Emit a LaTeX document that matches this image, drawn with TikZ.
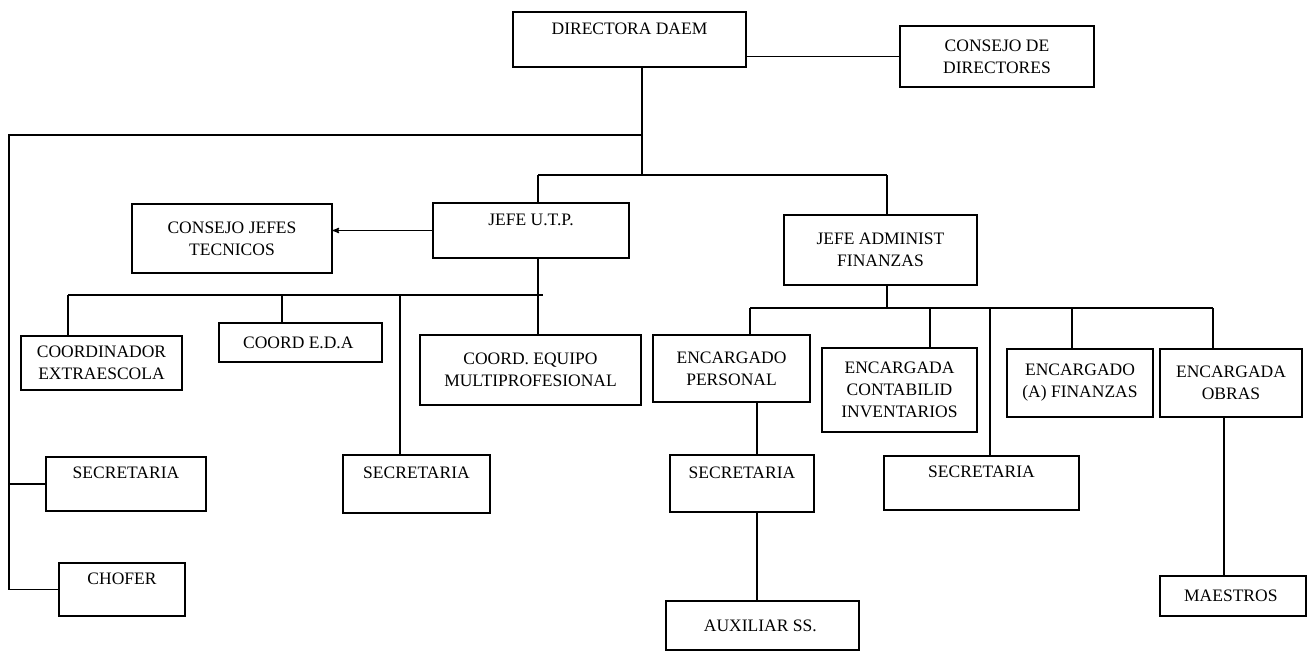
\documentclass[tikz,border=0pt]{standalone}
\usepackage{fontspec}
\setmainfont{Liberation Serif}
\usepackage{tikz}
\usetikzlibrary{arrows,calc}

\begin{document}
\begin{tikzpicture}[x=1pt,y=-1pt,line width=1.3pt,
      box/.style={draw,align=center,inner sep=2pt,
        font=\fontsize{17.5}{22}\selectfont}]
      \useasboundingbox (0,0) rectangle (1310,654);

      \node[box,minimum width=233,minimum height=55] (dir)  at (629.5, 39.5) { DIRECTORA DAEM\\~ };
      \node[box,minimum width=194,minimum height=61] (cdir) at (997,   56.5) { CONSEJO DE\\DIRECTORES };
      \node[box,minimum width=196,minimum height=55] (utp)  at (531,  230.5) { JEFE U.T.P.\\~ };
      \node[box,minimum width=200,minimum height=69] (cjt)  at (232,  238.5) { CONSEJO JEFES\\TECNICOS };
      \node[box,minimum width=193,minimum height=70] (adm)  at (880.5, 250)  { JEFE ADMINIST\\FINANZAS };

      \node[box,minimum width=161,minimum height=54] (coex) at (101.5, 363)  { COORDINADOR\\EXTRAESCOLA };
      \node[box,minimum width=163,minimum height=39] (eda)  at (300.5, 342.5) { COORD E.D.A };
      \node[box,minimum width=221,minimum height=70] (cem)  at (530.5, 370)  { COORD. EQUIPO\\MULTIPROFESIONAL };
      \node[box,minimum width=147,minimum height=58] (secu) at (416.5, 484)  { SECRETARIA\\~ };
      \node[box,minimum width=160,minimum height=54] (secd) at (126,   484)  { SECRETARIA\\~ };
      \node[box,minimum width=126,minimum height=53] (chof) at (122,  589.5) { CHOFER\\~ };

      \node[box,minimum width=157,minimum height=67] (epers) at (731.5, 368.5) { ENCARGADO\\PERSONAL };
      \node[box,minimum width=144,minimum height=57] (secp)  at (742,  483.5) { SECRETARIA\\~ };
      \node[box,minimum width=193,minimum height=49] (aux)   at (762.5, 625.5) { AUXILIAR SS. };
      \node[box,minimum width=155,minimum height=84] (econ)  at (899.5, 390)  { ENCARGADA\\CONTABILID\\INVENTARIOS };
      \node[box,minimum width=195,minimum height=54] (seca)  at (981.5, 483)  { SECRETARIA\\~ };
      \node[box,minimum width=146,minimum height=68] (efin)  at (1080,  383)  { ENCARGADO\\(A) FINANZAS };
      \node[box,minimum width=142,minimum height=68] (eobr)  at (1231,  383)  { ENCARGADA\\OBRAS };
      \node[box,minimum width=146,minimum height=40] (maes)  at (1233,  596)  { MAESTROS };

      \coordinate (j1) at (642, 135);
      \coordinate (j2) at (642, 175);
      \coordinate (l1) at (9,   135);
      \coordinate (b1) at (538, 175);
      \coordinate (b2) at (887, 175);
      \coordinate (b3) at (538, 295);
      \coordinate (b4) at (68,  295);
      \coordinate (b5) at (543, 295);
      \coordinate (b6) at (282, 295);
      \coordinate (b7) at (400, 295);
      \coordinate (a0) at (887, 308);
      \coordinate (a1) at (750, 308);
      \coordinate (a2) at (930, 308);
      \coordinate (a3) at (990, 308);
      \coordinate (a4) at (1072,308);
      \coordinate (a5) at (1213,308);
      \coordinate (v1) at (757, 0);
      \coordinate (v2) at (1224,0);

      \draw (cdir.west) -- (cdir.west -| dir.east);
      \draw (dir.south -| j2) -- (j2);
      \draw (j1) -- (l1) -- (l1 |- chof.west) -- (chof.west);
      \draw (l1 |- secd.west) -- (secd.west);

      \draw (b1) -- (b2);
      \draw (b1) -- (b1 |- utp.north);
      \draw (b2) -- (b2 |- adm.north);
      \draw[-stealth'] (utp.west) -- (cjt.east |- utp.west);

      \draw (b3 |- utp.south) -- (b3 |- cem.north);
      \draw (b4) -- (b5);
      \draw (b4) -- (b4 |- coex.north);
      \draw (b6) -- (b6 |- eda.north);
      \draw (b7) -- (b7 |- secu.north);

      \draw (a0 |- adm.south) -- (a0);
      \draw (a1) -- (a5);
      \draw (a1) -- (a1 |- epers.north);
      \draw (a2) -- (a2 |- econ.north);
      \draw (a3) -- (a3 |- seca.north);
      \draw (a4) -- (a4 |- efin.north);
      \draw (a5) -- (a5 |- eobr.north);

      \draw (v1 |- epers.south) -- (v1 |- secp.north);
      \draw (v1 |- secp.south) -- (v1 |- aux.north);
      \draw (v2 |- eobr.south) -- (v2 |- maes.north);
      \end{tikzpicture}
\end{document}
